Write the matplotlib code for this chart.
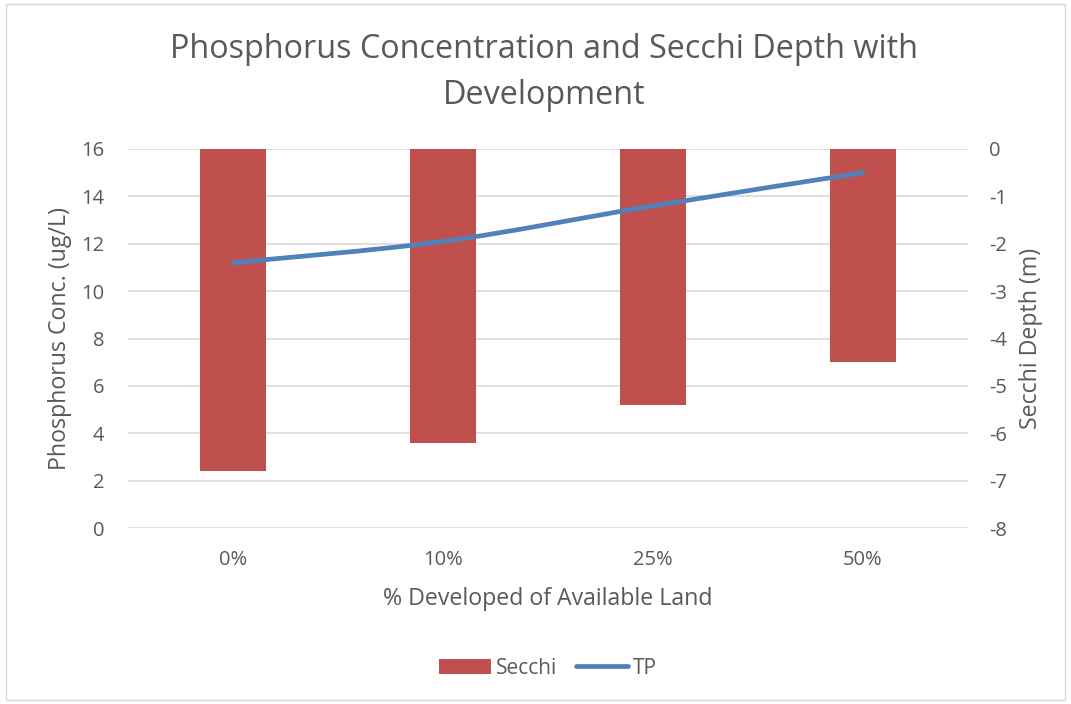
import matplotlib
matplotlib.use("Agg")
import matplotlib.pyplot as plt
from matplotlib.path import Path
from matplotlib.patches import PathPatch, Patch, Rectangle
from matplotlib.lines import Line2D
import numpy as np

categories = ["0%", "10%", "25%", "50%"]
secchi = [-6.8, -6.2, -5.4, -4.5]
tp = [11.2, 12.1, 13.6, 15.0]

plt.rcParams['font.family'] = ['Open Sans', 'DejaVu Sans']
plt.rcParams['axes.unicode_minus'] = False
GRAY = "#595959"
BAR = "#C0504D"
LINE = "#4F81BD"
GRID = "#D9D9D9"

fig = plt.figure(figsize=(10.71, 7.04), dpi=100)
fig.patches.append(Rectangle((6/1071, 4/704), 1 - 12/1071, 1 - 8/704, transform=fig.transFigure,
                             fill=False, edgecolor="#D9D9D9", linewidth=1))
ax = fig.add_axes([128/1071, 1 - 528/704, 840/1071, 379/704])
ax2 = ax.twinx()

x = np.arange(len(categories))
ax.set_xlim(-0.5, len(categories) - 0.5)
ax.set_ylim(0, 16)
ax.set_yticks(range(0, 17, 2))
ax2.set_ylim(-8, 0)
ax2.set_yticks(range(-8, 1, 1))

ax.grid(axis='y', color=GRID, linewidth=1.2)
ax.set_axisbelow(True)

# bars on secondary axis (hanging from 0)
ax2.bar(x, secchi, width=0.31, color=BAR, zorder=2)

# smoothed TP line (Catmull-Rom style bezier, Excel-like)
pts = np.column_stack([x, tp]).astype(float)
verts = [tuple(pts[0])]
codes = [Path.MOVETO]
n = len(pts)
for i in range(n - 1):
    p0 = pts[i - 1] if i > 0 else pts[i]
    p1 = pts[i]
    p2 = pts[i + 1]
    p3 = pts[i + 2] if i + 2 < n else pts[i + 1]
    c1 = p1 + (p2 - p0) / 6.0
    c2 = p2 - (p3 - p1) / 6.0
    verts += [tuple(c1), tuple(c2), tuple(p2)]
    codes += [Path.CURVE4] * 3
path = Path(verts, codes)
ax2.add_patch(PathPatch(path, transform=ax.transData, fill=False, edgecolor=LINE,
                        linewidth=3.4, capstyle='round', zorder=3))

ax.set_xticks(x)
ax.set_xticklabels(categories)
for a in (ax, ax2):
    for s in a.spines.values():
        s.set_visible(False)
    a.tick_params(length=0, colors=GRAY, labelsize=14.5)
ax.tick_params(axis='x', pad=16)
ax.tick_params(axis='y', pad=17)
ax2.tick_params(axis='y', pad=15)

ax.set_xlabel("% Developed of Available Land", color=GRAY, fontsize=16.7, labelpad=12)
ax.set_ylabel("Phosphorus Conc. (ug/L)", color=GRAY, fontsize=16.7, labelpad=7)
ax2.set_ylabel("Secchi Depth (m)", color=GRAY, fontsize=16.7, labelpad=9)

fig.text(544/1071, 1 - 73/704, "Phosphorus Concentration and Secchi Depth with\nDevelopment",
         ha='center', va='center', fontsize=23.3, color=GRAY, linespacing=1.52)

handles = [Patch(facecolor=BAR, label="Secchi"),
           Line2D([0], [0], color=LINE, linewidth=3.4, solid_capstyle='round', label="TP")]
fig.legend(handles=handles, loc='center', bbox_to_anchor=(548/1071, 1 - 668/704), ncol=2,
           frameon=False, fontsize=15, labelcolor=GRAY, handlelength=2.5, handleheight=0.7,
           handletextpad=0.25, columnspacing=0.9)

fig.savefig("out.png", dpi=100)
